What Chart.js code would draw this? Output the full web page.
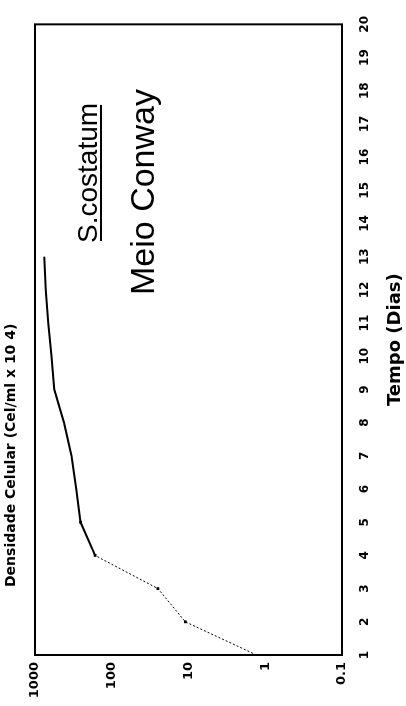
<!DOCTYPE html>
<html>
<head>
<meta charset="utf-8">
<title>S.costatum - Meio Conway</title>
<script src="https://cdn.jsdelivr.net/npm/chart.js@4"></script>
<style>
  html, body { margin: 0; padding: 0; background: #fff; overflow: hidden; }
  body { width: 406px; height: 706px; position: relative; }
  /* the figure is printed sideways, so draw it landscape and turn it */
  #wrap {
    position: absolute; left: 0; top: 0;
    width: 706px; height: 406px;
    transform-origin: 0 0;
    transform: translateY(706px) rotate(-90deg);
  }
</style>
</head>
<body>
<div id="wrap"><canvas id="growthChart" width="706" height="406"></canvas></div>
<script>
// data
var days      = [1, 2, 3, 4, 5, 6, 7, 8, 9, 10, 11, 12, 13];
var densidade = [1.3, 11, 25, 165, 255, 290, 335, 420, 560, 610, 670, 725, 760];
var marcados  = [2, 3, 4, 5];   // days with a small marker on the curve
var yTicks    = [0.1, 1, 10, 100, 1000];
var yTickLabels = ['0.1', '1', '10', '100', '1000'];

var fontFam = "'DejaVu Sans', sans-serif";

var points = [];
for (var i = 0; i < days.length; i++) {
  points.push({ x: days[i], y: densidade[i] });
}
var radii = days.map(function(d) { return marcados.indexOf(d) >= 0 ? 2 : 0; });

// box round the plot and the free texts
var frame = {
  id: 'frame',
  afterDraw: function(chart) {
    var ctx = chart.ctx, a = chart.chartArea;
    ctx.save();
    ctx.strokeStyle = '#000';
    ctx.lineWidth = 2;
    ctx.strokeRect(a.left, a.top, a.right - a.left, a.bottom - a.top);

    ctx.fillStyle = '#000';
    ctx.textBaseline = 'alphabetic';
    ctx.textAlign = 'left';

    // y axis caption, printed over the top of the plot
    ctx.font = "bold 14px " + fontFam;
    ctx.fillText('Densidade Celular (Cel/ml x 10 4)', a.left + 68, 15);

    // species, underlined
    ctx.font = "28px 'Liberation Sans', Arial, sans-serif";
    var sx = a.left + 412, sy = a.top + 62;
    ctx.fillText('S.costatum', sx, sy);
    var w = ctx.measureText('S.costatum').width;
    ctx.fillRect(sx + 2, sy + 3, w - 4, 2);

    ctx.font = "34px 'Liberation Sans', Arial, sans-serif";
    ctx.fillText('Meio Conway', a.left + 360, a.top + 119);
    ctx.restore();
  }
};

new Chart(document.getElementById('growthChart'), {
  type: 'line',
  data: {
    datasets: [{
      data: points,
      borderColor: '#000',
      backgroundColor: '#000',
      borderWidth: 2,
      tension: 0,
      pointRadius: radii,
      pointStyle: 'rect',
      pointBorderWidth: 0,
      segment: {
        borderDash: function(c) { return c.p0.parsed.x < 4 ? [2, 2] : undefined; },
        borderWidth: function(c) { return c.p0.parsed.x < 4 ? 1 : 2; }
      }
    }]
  },
  options: {
    responsive: false,
    animation: false,
    devicePixelRatio: 1,
    layout: { padding: { top: 35, right: 20, left: 0, bottom: 0 } },
    plugins: {
      legend: { display: false },
      tooltip: { enabled: false }
    },
    scales: {
      x: {
        type: 'linear',
        min: 1,
        max: 20,
        grid: { display: false, drawTicks: false },
        border: { display: false },
        ticks: {
          stepSize: 1,
          autoSkip: false,
          maxRotation: 0,
          padding: 16,
          color: '#000',
          font: { family: fontFam, size: 12, weight: 'bold' }
        },
        title: {
          display: true,
          text: 'Tempo (Dias)',
          color: '#000',
          padding: { top: 0, bottom: 0 },
          font: { family: fontFam, size: 18, weight: 'bold' }
        },
        afterFit: function(scale) { scale.height = 64; }
      },
      y: {
        type: 'logarithmic',
        min: 0.1,
        max: 1000,
        grid: { display: false, drawTicks: false },
        border: { display: false },
        afterBuildTicks: function(scale) {
          scale.ticks = yTicks.map(function(v) { return { value: v }; });
        },
        ticks: {
          padding: 7,
          color: '#000',
          font: { family: fontFam, size: 13, weight: 'bold' },
          callback: function(value) {
            var k = yTicks.indexOf(value);
            return k >= 0 ? yTickLabels[k] : '';
          }
        },
        afterFit: function(scale) { scale.width = 51; }
      }
    }
  },
  plugins: [frame]
});
</script>
</body>
</html>
